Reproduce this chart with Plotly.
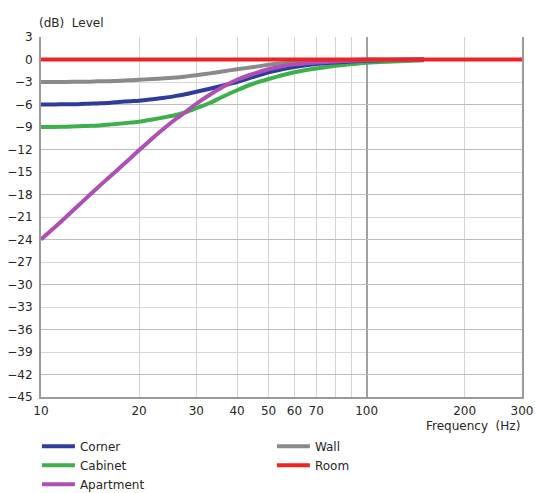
import plotly.graph_objects as go

freq = [10, 11, 12, 13, 14, 15, 16, 17, 18, 19, 20, 22, 24, 26, 28, 30, 33, 36, 40, 45,
        50, 55, 60, 70, 80, 90, 100, 120, 150]
apartment = [-24.0, -22.4, -20.9, -19.5, -18.2, -17.0, -15.9, -14.9, -13.9, -13.0, -12.1,
             -10.5, -9.1, -7.9, -6.9, -5.9, -4.7, -3.7, -2.7, -1.9, -1.3, -0.9, -0.65,
             -0.4, -0.25, -0.15, -0.1, -0.05, 0.0]
cabinet = [-9.0, -9.0, -8.95, -8.9, -8.85, -8.8, -8.7, -8.6, -8.5, -8.4, -8.3, -8.0, -7.7,
           -7.4, -7.0, -6.5, -5.8, -5.0, -4.1, -3.2, -2.6, -2.1, -1.7, -1.2, -0.85, -0.6,
           -0.42, -0.25, -0.1]
corner = [-6.0, -6.0, -5.95, -5.95, -5.9, -5.85, -5.8, -5.7, -5.6, -5.55, -5.5, -5.3, -5.1,
          -4.85, -4.6, -4.3, -3.9, -3.5, -3.0, -2.3, -1.7, -1.3, -1.0, -0.6, -0.4, -0.25,
          -0.15, -0.05, 0.0]
wall = [-3.0, -3.0, -3.0, -2.95, -2.95, -2.9, -2.9, -2.85, -2.8, -2.75, -2.7, -2.6, -2.5,
        -2.4, -2.25, -2.1, -1.85, -1.6, -1.3, -1.0, -0.7, -0.5, -0.35, -0.2, -0.1, -0.05,
        0.0, 0.0, 0.0]
room_freq = [10, 300]
room = [0.0, 0.0]

x_tickvals = [10, 20, 30, 40, 50, 60, 70, 80, 90, 100, 200, 300]
x_ticktext = ["10", "20", "30", "40", "50", "60", "70", "", "", "100", "200", "300"]
y_tickvals = list(range(3, -46, -3))
y_major_vals = list(range(0, -46, -6))

colors = {
    "Corner": "#2f3c9e",
    "Cabinet": "#3db04b",
    "Apartment": "#ad4fb5",
    "Wall": "#8a8a8a",
    "Room": "#ee2424",
}
FONT = "DejaVu Sans"
TXT = "#262626"

fig = go.Figure()
series = [("Wall", wall, 2), ("Cabinet", cabinet, 3), ("Corner", corner, 1), ("Apartment", apartment, 5)]
for name, vals, rank in series:
    fig.add_trace(go.Scatter(x=freq, y=vals, name=name, mode="lines",
                             line=dict(color=colors[name], width=4, shape="spline", smoothing=0.5),
                             legendrank=rank))
fig.add_trace(go.Scatter(x=room_freq, y=room, name="Room", mode="lines",
                         line=dict(color=colors["Room"], width=4), legendrank=4,
                         xaxis="x2", yaxis="y2"))

xr = [1, 2.47712]
yr = [-45, 3]
fig.update_layout(
    width=535, height=493,
    margin=dict(l=41, r=13, t=37, b=96, autoexpand=False),
    paper_bgcolor="white", plot_bgcolor="white",
    font=dict(family=FONT, size=12, color=TXT),
    xaxis=dict(type="log", range=xr, tickvals=x_tickvals, ticktext=x_ticktext,
               showgrid=True, gridcolor="#d4d4d4", gridwidth=1, automargin=False,
               showline=True, linecolor="#9a9a9a", linewidth=2, mirror=False,
               ticks="outside", ticklen=2, tickcolor="rgba(0,0,0,0)",
               tickfont=dict(family=FONT, size=12, color=TXT)),
    yaxis=dict(range=yr, tickvals=y_tickvals, showgrid=True, gridcolor="#d8d8d8", gridwidth=1,
               showline=True, linecolor="#9a9a9a", linewidth=2, mirror=True, automargin=False,
               ticks="outside", ticklen=4, tickcolor="rgba(0,0,0,0)", zeroline=False,
               tickfont=dict(family=FONT, size=12, color=TXT)),
    xaxis2=dict(type="log", range=xr, overlaying="x", anchor="y2", tickvals=[100],
                showgrid=True, gridcolor="#a0a0a0", gridwidth=1.5, showticklabels=False,
                showline=False, ticks="", automargin=False),
    yaxis2=dict(range=yr, overlaying="y", anchor="x2", tickvals=y_major_vals,
                showgrid=True, gridcolor="#bdbdbd", gridwidth=1, showticklabels=False,
                showline=False, ticks="", zeroline=False, automargin=False),
    showlegend=True,
    legend=dict(orientation="h", xref="container", x=0.069, xanchor="left",
                yref="container", y=0.124, yanchor="top",
                entrywidth=187, entrywidthmode="pixels", itemwidth=33,
                font=dict(family=FONT, size=12, color=TXT), tracegroupgap=0,
                bgcolor="rgba(0,0,0,0)"),
    annotations=[
        dict(text="(dB)  Level", xref="paper", yref="paper", x=-0.009, y=1.013,
             xanchor="left", yanchor="bottom", showarrow=False,
             font=dict(family=FONT, size=12, color=TXT)),
        dict(text="Frequency  (Hz)", xref="paper", yref="paper", x=1.0, y=-0.055,
             xanchor="right", yanchor="top", showarrow=False,
             font=dict(family=FONT, size=12, color=TXT)),
    ],
)

fig.write_html("out.html", config={"displayModeBar": False},
               post_script="document.body.style.margin='0';")
